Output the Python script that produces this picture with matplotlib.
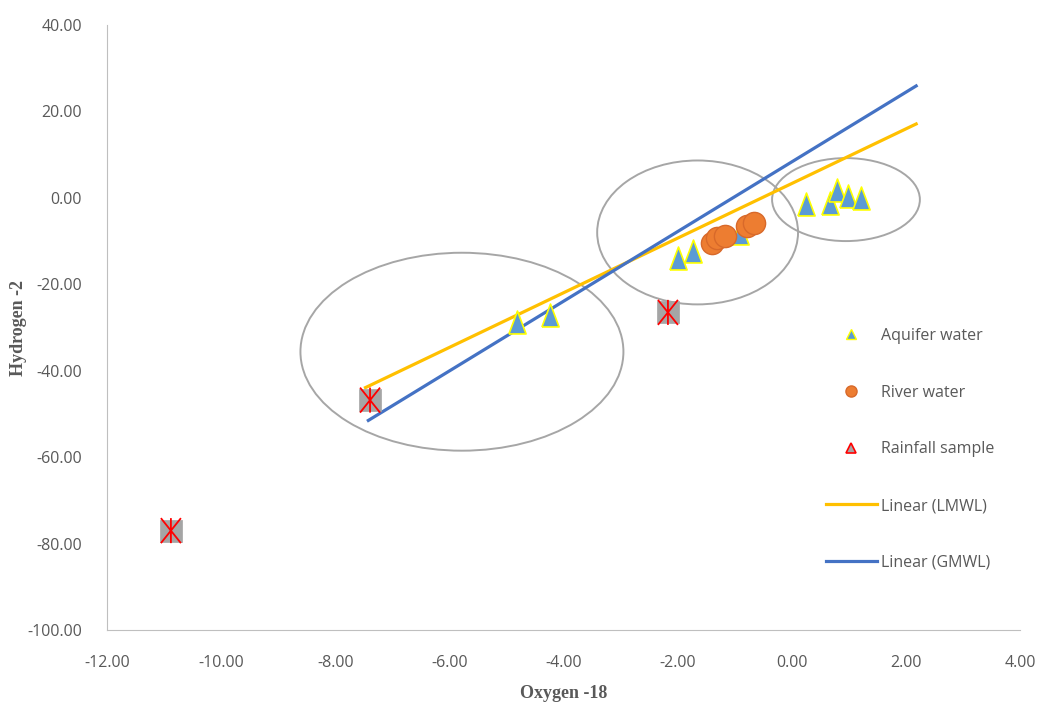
import matplotlib
matplotlib.use('Agg')
import matplotlib.pyplot as plt
from matplotlib.patches import Ellipse
from matplotlib.lines import Line2D
from matplotlib.path import Path
from matplotlib.ticker import FormatStrFormatter

# data
aquifer_o18 = [-4.82, -4.24, -1.99, -1.73, -0.91, 0.25, 0.67, 0.79, 0.99, 1.21]
aquifer_h2 = [-28.8, -27.0, -13.9, -12.2, -8.1, -1.4, -1.1, 1.9, 0.5, 0.0]

river_o18 = [-1.40, -1.31, -1.17, -0.78, -0.67]
river_h2 = [-10.4, -9.4, -8.8, -6.5, -5.8]

rain_o18 = [-10.88, -7.39, -2.17]
rain_h2 = [-77.0, -46.8, -26.5]

lmwl_x = [-7.47, 2.18]
lmwl_y = [-43.9, 17.1]
gmwl_x = [-7.42, 2.18]
gmwl_y = [-51.5, 25.9]

# grouping ellipses: centre x, centre y, width, height
groups = [(-5.78, -35.6, 5.66, 45.8),
          (-1.65, -8.0, 3.52, 33.3),
          (0.95, -0.4, 2.59, 19.2)]

plt.rcParams['font.family'] = ['Open Sans', 'DejaVu Sans']
grey_txt = '#595959'

fig = plt.figure(figsize=[10.52, 7.06], dpi=100)
ax = fig.add_axes([0.1017, 0.1076, 0.8679, 0.857])

tri = [(-0.75, -1), (0.75, -1), (0, 1), (-0.75, -1)]
# X with a vertical bar, as in the rainfall marker
star = Path([(-0.8, -1), (0.8, 1), (-0.8, 1), (0.8, -1), (0, -1), (0, 1)],
            [Path.MOVETO, Path.LINETO, Path.MOVETO, Path.LINETO,
             Path.MOVETO, Path.LINETO])

ax.plot(lmwl_x, lmwl_y, color='#FFC000', lw=2.3, zorder=2)
ax.plot(gmwl_x, gmwl_y, color='#4472C4', lw=2.3, zorder=2)

ax.scatter(aquifer_o18, aquifer_h2, marker=tri, s=16.5**2, facecolor='#5B9BD5',
           edgecolor='#FFFF00', linewidth=1.2, zorder=3)
ax.scatter(river_o18, river_h2, marker='o', s=16**2, facecolor='#ED7D31',
           edgecolor='#D8692A', linewidth=1.0, zorder=4)
ax.scatter(rain_o18, rain_h2, marker='s', s=16.5**2, facecolor='#A5A5A5',
           edgecolor='#A5A5A5', linewidth=0.5, zorder=4)
ax.scatter(rain_o18, rain_h2, marker=star, s=18**2, facecolor='none',
           edgecolor='#FF0000', linewidth=1.3, zorder=5)

for cx, cy, w, h in groups:
    ax.add_patch(Ellipse((cx, cy), w, h, fill=False, edgecolor='#A6A6A6',
                         lw=1.4, zorder=1))

ax.set_xlim(-12, 4)
ax.set_ylim(-100, 40)
ax.set_xticks(range(-12, 5, 2))
ax.set_yticks(range(-100, 41, 20))
ax.xaxis.set_major_formatter(FormatStrFormatter('%.2f'))
ax.yaxis.set_major_formatter(FormatStrFormatter('%.2f'))
ax.tick_params(length=0, labelsize=11.5, colors=grey_txt)
ax.tick_params(axis='x', pad=18)
ax.tick_params(axis='y', pad=18)
for s in ['top', 'right']:
    ax.spines[s].set_visible(False)
for s in ['left', 'bottom']:
    ax.spines[s].set_color('#BFBFBF')

ax.set_xlabel('Oxygen -18', family='Liberation Serif', fontweight='bold',
              fontsize=13, color=grey_txt, labelpad=10)
ax.set_ylabel('Hydrogen -2', family='Liberation Serif', fontweight='bold',
              fontsize=13, color=grey_txt, labelpad=0)

handles = [
    Line2D([], [], ls='none', marker='^', ms=7, mfc='#5B9BD5', mec='#FFFF00', mew=1),
    Line2D([], [], ls='none', marker='o', ms=8, mfc='#ED7D31', mec='#D8692A'),
    Line2D([], [], ls='none', marker='^', ms=7, mfc='#A5A5A5', mec='#FF0000', mew=1.2),
    Line2D([], [], color='#FFC000', lw=2.3),
    Line2D([], [], color='#4472C4', lw=2.3),
]
labels = ['Aquifer water', 'River water', 'Rainfall sample',
          'Linear (LMWL)', 'Linear (GMWL)']
leg = ax.legend(handles, labels, loc='upper left', bbox_to_anchor=(0.78, 0.51),
                frameon=False, fontsize=11.5, labelspacing=2.55,
                handlelength=3.2, handletextpad=0.3, borderaxespad=0)
for t in leg.get_texts():
    t.set_color(grey_txt)

plt.savefig('out.png', dpi=100)
